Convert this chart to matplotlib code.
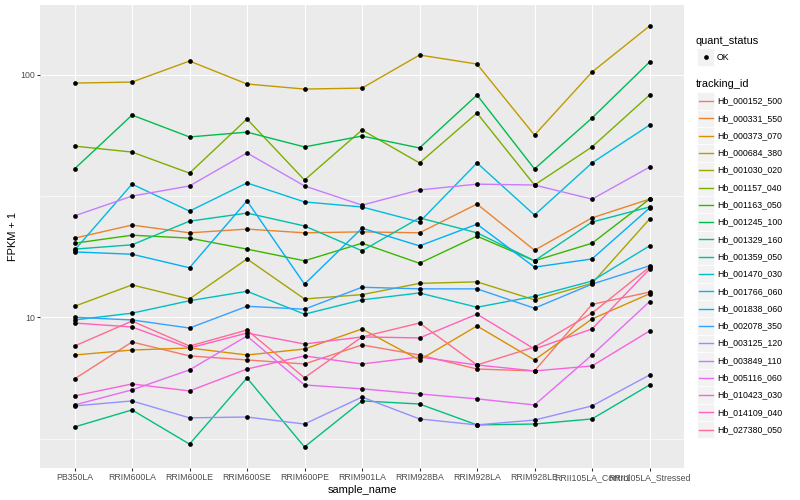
import matplotlib
matplotlib.use("Agg")
import matplotlib.pyplot as plt
from matplotlib.patches import Rectangle
from matplotlib.lines import Line2D
from matplotlib.ticker import FixedLocator, NullFormatter
import numpy as np

plt.rcParams['font.family'] = ['Liberation Sans', 'DejaVu Sans']

samples = ["PB350LA", "RRIM600LA", "RRIM600LE", "RRIM600SE", "RRIM600PE",
           "RRIM901LA", "RRIM928BA", "RRIM928LA", "RRIM928LE",
           "RRII105LA_Control", "RRII105LA_Stressed"]

tracking_ids = ["Hb_000152_500", "Hb_000331_550", "Hb_000373_070", "Hb_000684_380",
                "Hb_001030_020", "Hb_001157_040", "Hb_001163_050", "Hb_001245_100",
                "Hb_001329_160", "Hb_001359_050", "Hb_001470_030", "Hb_001766_060",
                "Hb_001838_060", "Hb_002078_350", "Hb_003125_120", "Hb_003849_110",
                "Hb_005116_060", "Hb_010423_030", "Hb_014109_040", "Hb_027380_050"]

# FPKM + 1, one row per tracking_id, one column per sample
fpkm_plus_1 = [
    [5.57, 7.91, 6.93, 6.67, 6.42, 7.69, 6.99, 6.12, 6.01, 11.3, 12.7],
    [21.2, 24.0, 22.3, 23.1, 22.3, 22.5, 22.3, 29.3, 18.9, 25.7, 30.7],
    [6.99, 7.33, 7.47, 6.99, 7.40, 8.95, 6.67, 9.21, 6.67, 9.84, 12.5],
    [92.4, 93.3, 113.9, 91.6, 87.3, 88.1, 120.6, 110.7, 56.4, 102.6, 158.8],
    [11.1, 13.6, 11.9, 17.4, 11.9, 12.4, 13.8, 14.0, 11.8, 13.8, 25.4],
    [50.8, 48.0, 39.3, 65.7, 36.8, 59.2, 43.3, 69.5, 35.1, 50.4, 82.5],
    [20.2, 21.8, 21.2, 19.1, 17.1, 20.2, 16.7, 21.6, 17.1, 20.2, 30.7],
    [40.9, 68.2, 55.4, 58.0, 50.4, 55.9, 49.9, 82.5, 40.9, 66.3, 112.8],
    [3.53, 4.15, 3.00, 5.62, 2.92, 4.52, 4.39, 3.60, 3.63, 3.81, 5.26],
    [19.1, 19.9, 24.9, 26.9, 23.8, 18.8, 25.7, 22.3, 17.1, 24.7, 28.5],
    [9.75, 10.4, 11.7, 12.8, 10.3, 11.8, 12.6, 11.0, 12.2, 14.1, 19.7],
    [18.9, 35.4, 27.4, 35.8, 29.9, 28.5, 24.7, 43.3, 26.4, 43.3, 62.0],
    [18.6, 18.2, 16.0, 30.2, 13.7, 23.3, 19.7, 24.2, 16.1, 17.4, 28.2],
    [10.0, 9.75, 9.03, 11.1, 10.8, 13.3, 13.1, 13.1, 10.9, 13.7, 16.3],
    [4.31, 4.52, 3.85, 3.88, 3.63, 4.69, 3.81, 3.60, 3.77, 4.31, 5.78],
    [26.2, 31.6, 34.8, 47.6, 34.8, 29.0, 33.5, 35.4, 35.1, 30.7, 41.6],
    [4.35, 5.02, 6.07, 8.37, 5.26, 5.07, 4.83, 4.61, 4.35, 6.99, 11.6],
    [4.74, 5.31, 4.97, 6.12, 6.93, 6.42, 6.86, 6.36, 6.01, 6.30, 8.78],
    [9.47, 9.12, 7.47, 8.61, 7.76, 8.30, 8.22, 10.3, 7.40, 8.95, 15.8],
    [7.61, 9.65, 7.61, 8.86, 5.63, 8.30, 9.47, 6.36, 7.54, 10.4, 16.1],
]

# ggplot2 default hue palette for 20 groups
palette = ["#F8766D", "#EA8331", "#D89000", "#C09B00", "#A3A500", "#7CAE00",
           "#39B600", "#00BB4E", "#00BF7D", "#00C1A3", "#00BFC4", "#00BAE0",
           "#00B0F6", "#35A2FF", "#9590FF", "#C77CFF", "#E76BF3", "#FA62DB",
           "#FF62BC", "#FF6C91"]

W, H = 800, 500
PT = 0.72  # px -> pt at dpi 100

fig = plt.figure(figsize=(8, 5), dpi=100)
ax = fig.add_axes([40 / W, 1 - 468 / H, 644 / W, 463 / H])
ax.set_facecolor("#EBEBEB")
for s in ax.spines.values():
    s.set_visible(False)

x = np.arange(len(samples))
for vals, col in zip(fpkm_plus_1, palette):
    ax.plot(x, vals, color=col, lw=1.0, solid_capstyle="butt", zorder=3)
for vals in fpkm_plus_1:
    ax.plot(x, vals, ls="none", marker="o", ms=3.4, color="black", mew=0, zorder=4)

ax.set_yscale("log")
lo = np.log10(np.min(fpkm_plus_1))
hi = np.log10(np.max(fpkm_plus_1))
pad = (hi - lo) * 0.05
ax.set_ylim(10 ** (lo - pad), 10 ** (hi + pad))
ax.set_xlim(-0.6, len(samples) - 0.4)

ax.yaxis.set_major_locator(FixedLocator([10, 100]))
ax.yaxis.set_major_formatter(matplotlib.ticker.FixedFormatter(["10", "100"]))
ax.yaxis.set_minor_locator(FixedLocator([10 ** 0.5, 10 ** 1.5]))
ax.yaxis.set_minor_formatter(NullFormatter())
ax.set_xticks(x)
ax.set_xticklabels(samples)

ax.grid(True, which="major", color="white", lw=1.07 * PT, zorder=0)
ax.grid(True, which="minor", axis="y", color="white", lw=0.53 * PT * 1.2, zorder=0)
ax.set_axisbelow(True)

ax.tick_params(which="major", length=2.75 * PT, width=1.07 * PT, color="#333333",
               pad=2.2 * PT, labelsize=8.8 * PT, labelcolor="#4D4D4D")
ax.tick_params(which="minor", length=0)

ax.set_xlabel("sample_name", fontsize=11 * PT, color="black", labelpad=2.75 * PT)
ax.set_ylabel("FPKM + 1", fontsize=11 * PT, color="black", labelpad=2.75 * PT)


def fx(px):
    return px / W


def fy(py):
    return 1 - py / H


# legend: quant_status
fig.text(fx(696), fy(40.5), "quant_status", fontsize=11 * PT, va="center", ha="left")
key = 17.3
fig.patches.append(Rectangle((fx(697), fy(57 + key / 2)), key / W, key / H,
                             transform=fig.transFigure, facecolor="#F2F2F2",
                             edgecolor="white", lw=0.5))
fig.lines.append(Line2D([fx(705.5)], [fy(57)], transform=fig.transFigure,
                        marker="o", ms=3.4, color="black", mew=0, ls="none"))
fig.text(fx(717), fy(57), "OK", fontsize=8.8 * PT, va="center", ha="left")

# legend: tracking_id
fig.text(fx(696), fy(84), "tracking_id", fontsize=11 * PT, va="center", ha="left")
for i, (name, col) in enumerate(zip(tracking_ids, palette)):
    cy = 101 + key * i
    fig.patches.append(Rectangle((fx(697), fy(cy + key / 2)), key / W, key / H,
                                 transform=fig.transFigure, facecolor="#F2F2F2",
                                 edgecolor="white", lw=0.5))
    fig.lines.append(Line2D([fx(699), fx(712.5)], [fy(cy), fy(cy)],
                            transform=fig.transFigure, color=col, lw=1.0))
    fig.text(fx(717), fy(cy), name, fontsize=8.8 * PT, va="center", ha="left")

fig.savefig("out.png", dpi=100)
